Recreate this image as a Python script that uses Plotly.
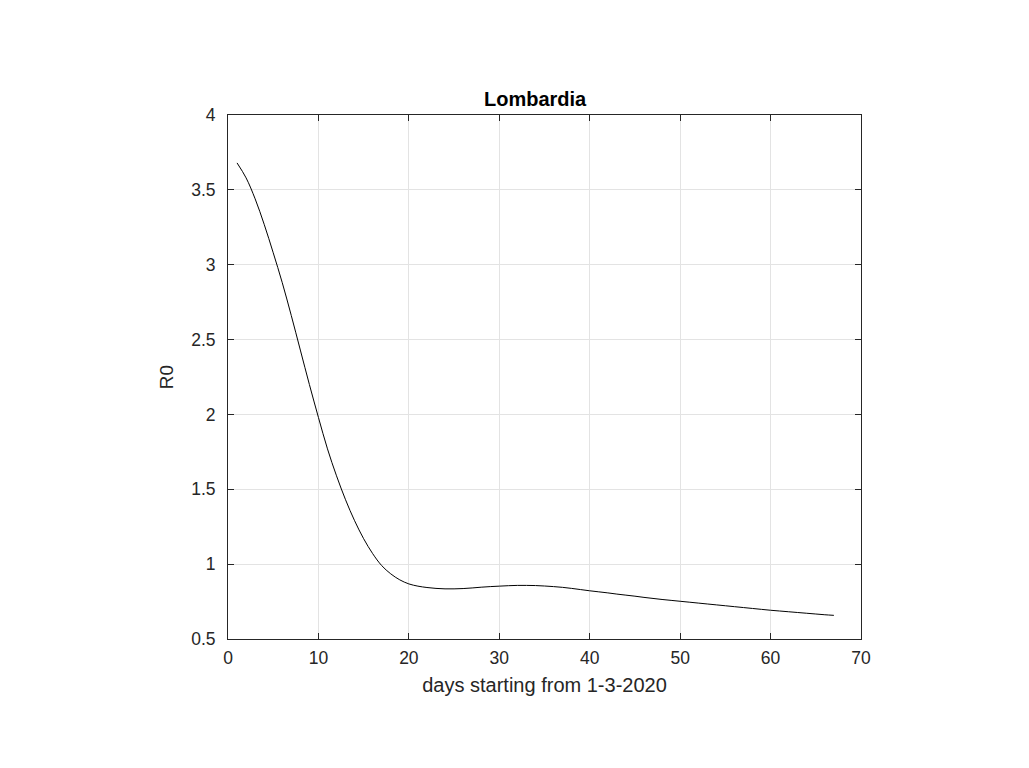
import plotly.graph_objects as go

days = list(range(1, 68))
r0 = [3.68, 3.58, 3.44, 3.27, 3.08, 2.88, 2.66, 2.43, 2.20, 1.98,
      1.77, 1.59, 1.43, 1.29, 1.17, 1.07, 0.99, 0.935, 0.895, 0.868,
      0.853, 0.844, 0.838, 0.835, 0.835, 0.837, 0.841, 0.846, 0.850, 0.853,
      0.856, 0.858, 0.858, 0.857, 0.854, 0.850, 0.845, 0.838, 0.830, 0.822,
      0.815, 0.808, 0.800, 0.793, 0.786, 0.778, 0.771, 0.764, 0.758, 0.752,
      0.746, 0.740, 0.734, 0.728, 0.722, 0.716, 0.710, 0.704, 0.698, 0.692,
      0.687, 0.682, 0.677, 0.672, 0.667, 0.662, 0.658]

title_text = "Lombardia"
x_label = "days starting from 1-3-2020"
y_label = "R0"

FONT = "Liberation Sans, Arial, Helvetica"

fig = go.Figure()
fig.add_trace(go.Scatter(x=days, y=r0, mode="lines",
                         line=dict(color="black", width=1, shape="spline"),
                         showlegend=False))

axis_common = dict(
    showline=True, linecolor="#262626", linewidth=1, mirror="allticks",
    ticks="inside", ticklen=6, tickcolor="#262626",
    showgrid=True, gridcolor="#e3e3e3", gridwidth=1, zeroline=False,
    tickfont=dict(family=FONT, size=17.5, color="#262626"),
)

fig.update_layout(
    width=1029, height=768,
    paper_bgcolor="white", plot_bgcolor="white",
    margin=dict(l=220, r=176, t=107, b=137),
    xaxis=dict(range=[0, 70], dtick=10, ticklabelstandoff=3,
               title=dict(text=x_label, standoff=10,
                          font=dict(family=FONT, size=20, color="#262626")),
               **axis_common),
    yaxis=dict(range=[0.5, 4], dtick=0.5, ticklabelstandoff=8,
               title=dict(text=y_label, standoff=12,
                          font=dict(family=FONT, size=19, color="#262626")),
               **axis_common),
    annotations=[dict(text="<b>" + title_text + "</b>", xref="paper", yref="paper",
                      x=(534 - 227) / (860 - 227), y=1 + (114 - 98) / 524,
                      xanchor="center", yanchor="middle", showarrow=False,
                      font=dict(family=FONT, size=20, color="black"))],
)

fig.write_html("out.html")
